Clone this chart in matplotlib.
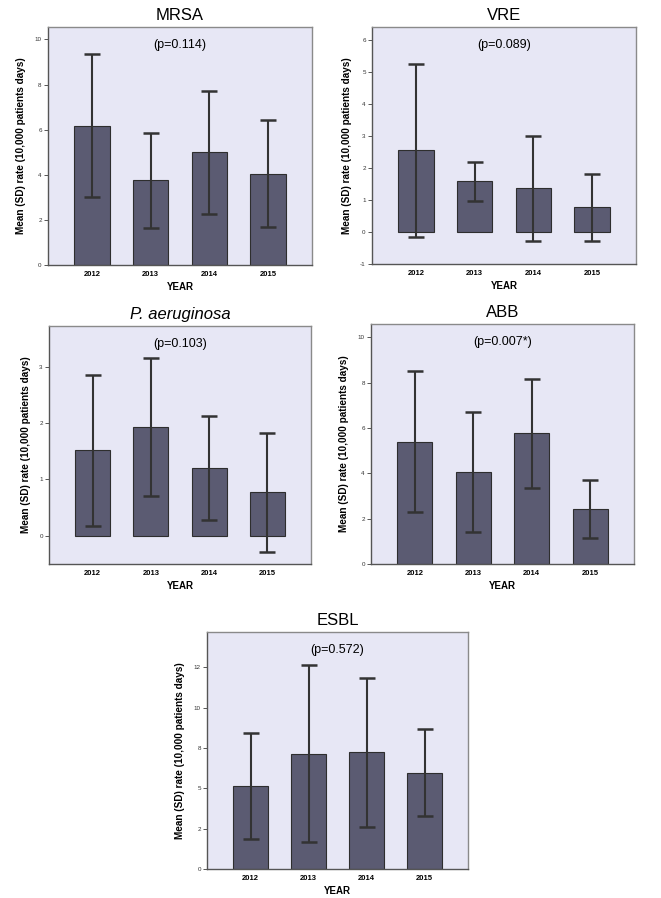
import matplotlib
matplotlib.use("Agg")
import matplotlib.pyplot as plt
import numpy as np

plt.rcParams["font.family"] = ["Liberation Sans", "DejaVu Sans"]

W, H = 661, 898

years = ["2012", "2013", "2014", "2015"]

mrsa_mean = [6.18, 3.75, 5.00, 4.05]
mrsa_sd = [3.18, 2.11, 2.73, 2.36]
vre_mean = [2.54, 1.58, 1.36, 0.77]
vre_sd = [2.69, 0.61, 1.63, 1.04]
pa_mean = [1.52, 1.93, 1.20, 0.77]
pa_sd = [1.34, 1.22, 0.92, 1.05]
abb_mean = [5.40, 4.06, 5.76, 2.43]
abb_sd = [3.10, 2.63, 2.39, 1.27]
esbl_mean = [5.14, 7.15, 7.23, 5.97]
esbl_sd = [3.30, 5.48, 4.63, 2.70]

pvals = ["(p=0.114)", "(p=0.089)", "(p=0.103)", "(p=0.007*)", "(p=0.572)"]

BAR = "#5b5b72"
BG = "#e7e7f5"
EDGE = "#2e2e2e"

fig = plt.figure(figsize=(W / 100, H / 100), dpi=100)


def panel(box, title, means, sds, ptext, ylim, yticks, yticklabels=None, italic=False):
    # box = (left, top, right, bottom) in pixels
    l, t, r, b = box
    ax = fig.add_axes([l / W, 1 - b / H, (r - l) / W, (b - t) / H])
    ax.set_facecolor(BG)
    x = np.arange(len(years))
    ax.bar(x, means, width=0.6, color=BAR, edgecolor=EDGE, linewidth=0.8, zorder=2)
    ax.errorbar(x, means, yerr=sds, fmt="none", ecolor="#333333", elinewidth=1.5,
                capsize=5.5, capthick=1.8, zorder=3)
    ax.set_xlim(-0.75, 3.75)
    ax.set_ylim(*ylim)
    ax.set_xticks(x)
    ax.set_xticklabels(years, fontsize=5.5, fontweight="bold")
    ax.set_yticks(yticks)
    if yticklabels is None:
        yticklabels = [str(v) for v in yticks]
    ax.set_yticklabels(yticklabels, fontsize=4.5, color="#333333")
    ax.tick_params(axis="x", length=0, pad=4)
    ax.tick_params(axis="y", length=3, width=0.7, pad=1.5, color="#555555")
    for s in ax.spines.values():
        s.set_color("#8a8a8a")
        s.set_linewidth(1.0)
    ax.spines["left"].set_color("#555555")
    ax.spines["bottom"].set_color("#555555")
    ax.set_xlabel("YEAR", fontsize=7, fontweight="bold", labelpad=3)
    ax.set_ylabel("Mean (SD) rate (10,000 patients days)", fontsize=7.2,
                  fontweight="bold", labelpad=6)
    ax.set_title(title, fontsize=12, style="italic" if italic else "normal", pad=5)
    ax.text(0.5, 0.925, ptext, transform=ax.transAxes, ha="center", va="center",
            fontsize=9)
    return ax


panel((48, 27, 312, 265), "MRSA", mrsa_mean, mrsa_sd, pvals[0],
      (0, 10.55), [0, 2, 4, 6, 8, 10])
panel((372, 27, 636, 264), "VRE", vre_mean, vre_sd, pvals[1],
      (-1, 6.39), [-1, 0, 1, 2, 3, 4, 5, 6])
panel((49, 326, 311, 564), "P. aeruginosa", pa_mean, pa_sd, pvals[2],
      (-0.5, 3.72), [0, 1, 2, 3], italic=True)
panel((371, 324, 634, 564), "ABB", abb_mean, abb_sd, pvals[3],
      (0, 10.59), [0, 2, 4, 6, 8, 10])
panel((207, 632, 468, 869), "ESBL", esbl_mean, esbl_sd, pvals[4],
      (0, 14.7), [0, 2.5, 5, 7.5, 10, 12.5], ["0", "2", "5", "8", "10", "12"])

fig.savefig("out.png", dpi=100, facecolor="white")
